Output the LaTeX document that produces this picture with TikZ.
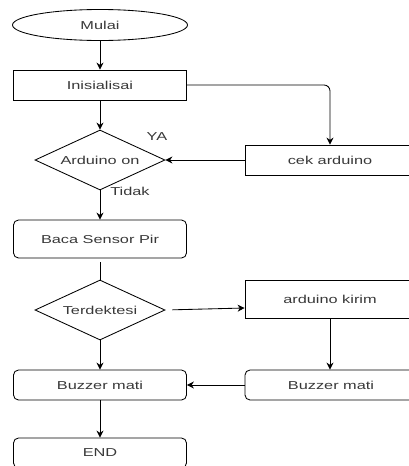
\documentclass[tikz,border=0pt]{standalone}
\usepackage{fontspec}
\setmainfont{Liberation Sans}[FakeStretch=1.42]
\usetikzlibrary{shapes.geometric, arrows.meta}
\definecolor{txt}{HTML}{383838}

\begin{document}
\begin{tikzpicture}[x=1pt, y=-1pt, line width=0.85pt,
		every node/.style={text=txt, font=\fontsize{11.5}{13}\selectfont},
		proc/.style={rectangle, draw=black, minimum width=173pt, minimum height=30pt},
		rproc/.style={proc, rounded corners=5pt},
		dec/.style={diamond, draw=black, aspect=2.17, minimum width=130pt, minimum height=60pt, inner sep=0pt},
		arr/.style={-{Stealth[length=7pt, width=7pt]}}]
	\useasboundingbox (0, 0) rectangle (408, 466);

	\node[ellipse, draw=black, minimum width=175pt, minimum height=31pt] (mulai) at (100, 25) {Mulai};
	\node[proc] (init) at (100, 85) {Inisialisai};
	\node[dec] (ardon) at (100, 160) {Arduino on};
	\node[proc, minimum width=170pt] (cek) at (330, 160) {cek arduino};
	\node[rproc, minimum height=38pt] (baca) at (100, 239) {Baca Sensor Pir};
	\node[dec] (deteksi) at (100, 310) {Terdektesi};
	\node[proc, minimum width=170pt, minimum height=38pt] (kirim) at (330, 299) {arduino kirim};
	\node[rproc] (buzzl) at (100, 385) {Buzzer mati};
	\node[rproc, minimum width=172pt] (buzzr) at (331, 385) {Buzzer mati};
	\node[rproc] (end) at (100, 453) {END};

	\node (ya) at (157, 137) {YA};
	\node (tidak) at (130, 191) {Tidak};

	\draw[arr] (mulai) -- (init);
	\draw[arr, rounded corners=6pt] (init.east) -| (cek.north);
	\draw[arr] (init) -- (ardon);
	\draw[arr] (cek) -- (ardon.east);
	\draw[arr] (ardon) -- (baca);
	\draw[shorten <=4pt] (baca) -- (deteksi);
	\draw[arr, shorten <=7pt] (deteksi.east) -- ([yshift=-9pt]kirim.west);
	\draw[arr] (kirim) -- (kirim |- buzzr.north);
	\draw[arr] (buzzr) -- (buzzl);
	\draw[arr] (deteksi) -- (buzzl);
	\draw[arr] (buzzl) -- (end);
\end{tikzpicture}
\end{document}
